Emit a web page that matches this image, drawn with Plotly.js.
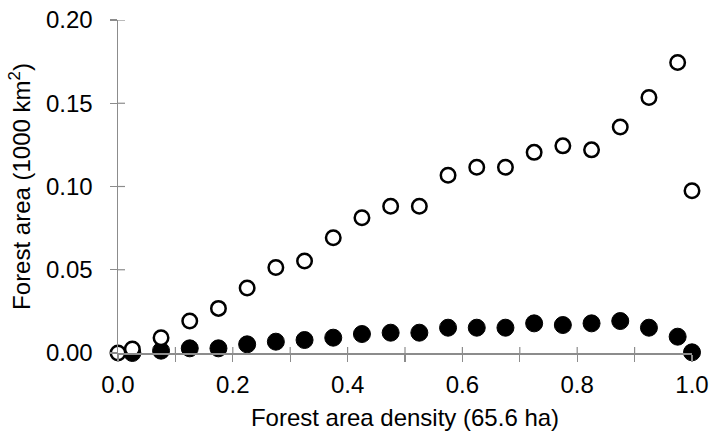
<!DOCTYPE html>
<html>
<head>
<meta charset="utf-8">
<script src="https://cdn.plot.ly/plotly-3.0.1.min.js"></script>
<style>html,body{margin:0;padding:0;background:#fff;}#chart{width:713px;height:445px;}</style>
</head>
<body>
<div id="chart"></div>
<script>
// Forest area density bins (x) and forest area (1000 km2)
const density = [0, 0.025, 0.075, 0.125, 0.175, 0.225, 0.275, 0.325, 0.375, 0.425, 0.475, 0.525, 0.575, 0.625, 0.675, 0.725, 0.775, 0.825, 0.875, 0.925, 0.975, 1.0];
const openSeries = [0.0, 0.0024, 0.0092, 0.0192, 0.0268, 0.039, 0.0514, 0.0552, 0.0692, 0.0812, 0.0882, 0.0882, 0.1068, 0.1115, 0.1115, 0.1205, 0.1244, 0.122, 0.1358, 0.1535, 0.1745, 0.0974];
const filledDensity = [0.025, 0.075, 0.125, 0.175, 0.225, 0.275, 0.325, 0.375, 0.425, 0.475, 0.525, 0.575, 0.625, 0.675, 0.725, 0.775, 0.825, 0.875, 0.925, 0.975, 1.0];
const filledSeries = [0.0, 0.0014, 0.0028, 0.0028, 0.0052, 0.0068, 0.0078, 0.0092, 0.0114, 0.0122, 0.0122, 0.0152, 0.0152, 0.0152, 0.0178, 0.0168, 0.0178, 0.0192, 0.0152, 0.0098, 0.0004];
const xTickVals = [0, 0.2, 0.4, 0.6, 0.8, 1.0];
const xTickText = ['0.0', '0.2', '0.4', '0.6', '0.8', '1.0'];
const xMinorTickVals = [0, 0.1, 0.2, 0.3, 0.4, 0.5, 0.6, 0.7, 0.8, 0.9, 1.0];
const yTickVals = [0, 0.05, 0.10, 0.15, 0.20];
const yTickText = ['0.00', '0.05', '0.10', '0.15', '0.20'];

const FONT = 'Liberation Sans, Arial, sans-serif';
const axisGrey = '#8c8c8c';
const TICKSIZE = 24;

const traces = [
  {x: filledDensity, y: filledSeries, type: 'scatter', mode: 'markers', cliponaxis: false,
   marker: {symbol: 'circle', size: 17, color: '#000', line: {color: '#000', width: 1}}, hoverinfo: 'skip', showlegend: false},
  {x: density, y: openSeries, type: 'scatter', mode: 'markers', cliponaxis: false,
   marker: {symbol: 'circle', size: 14.5, color: '#fff', line: {color: '#000', width: 2.5}}, hoverinfo: 'skip', showlegend: false}
];

// inner half of the cross ticks (Excel-style), placed at tick values
const shapes = [];
xMinorTickVals.forEach(v => shapes.push({type: 'line', layer: 'below', xref: 'x', yref: 'paper',
  ysizemode: 'pixel', yanchor: 0, y0: 0, y1: 6, x0: v, x1: v, line: {color: axisGrey, width: 1.2}}));
yTickVals.forEach(v => shapes.push({type: 'line', layer: 'below', xref: 'paper', yref: 'y',
  xsizemode: 'pixel', xanchor: 0, x0: 0, x1: 7, y0: v, y1: v, line: {color: axisGrey, width: 1.2}}));

const layout = {
  width: 713, height: 445,
  margin: {l: 118, r: 21, t: 20, b: 92},
  paper_bgcolor: '#fff', plot_bgcolor: '#fff',
  font: {family: FONT, size: 22, color: '#000'},
  showlegend: false,
  shapes: shapes,
  xaxis: {
    range: [0, 1.0], tickvals: xTickVals, ticktext: xTickText,
    showgrid: false, zeroline: false, showline: true, linecolor: axisGrey, linewidth: 1.5,
    ticks: 'outside', ticklen: 7, tickwidth: 1.2, tickcolor: axisGrey, ticklabelstandoff: 3,
    minor: {tickvals: xMinorTickVals, ticks: 'outside', ticklen: 7, tickwidth: 1.2, tickcolor: axisGrey, showgrid: false},
    tickfont: {family: FONT, size: TICKSIZE, color: '#000'},
    title: {text: 'Forest area density (65.6 ha)', font: {family: FONT, size: 24, color: '#000'}, standoff: 12}
  },
  yaxis: {
    range: [0, 0.20], tickvals: yTickVals, ticktext: yTickText,
    showgrid: false, zeroline: false, showline: true, linecolor: axisGrey, linewidth: 1.5,
    ticks: 'outside', ticklen: 7, tickwidth: 1.2, tickcolor: axisGrey, ticklabelstandoff: 12,
    tickfont: {family: FONT, size: TICKSIZE, color: '#000'},
    title: {text: 'Forest area (1000 km<sup>2</sup>)', font: {family: FONT, size: 24, color: '#000'}, standoff: 8}
  }
};

Plotly.newPlot('chart', traces, layout, {staticPlot: true, displayModeBar: false});
</script>
</body>
</html>
